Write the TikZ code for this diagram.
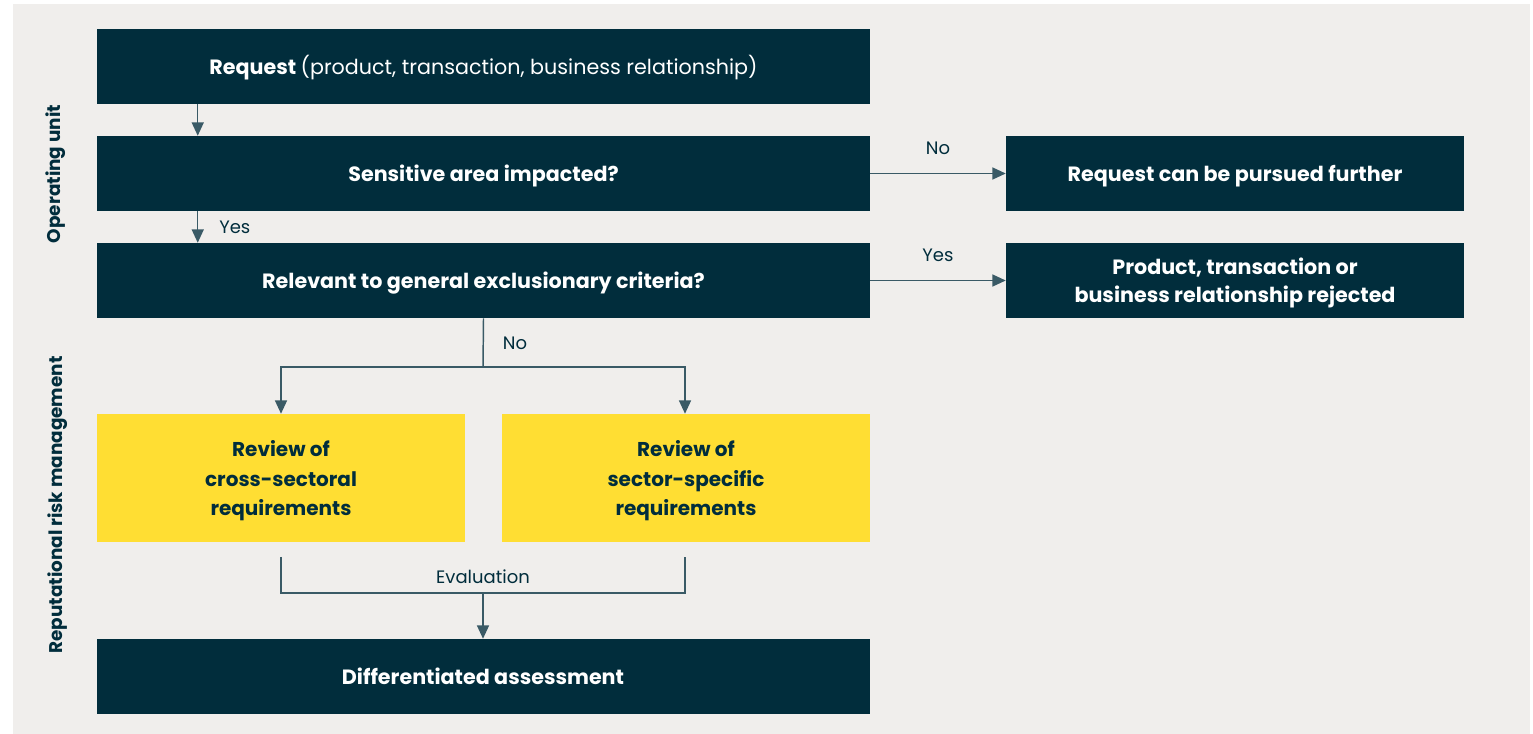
\documentclass[tikz,border=0pt]{standalone}
\usepackage{fontspec}
\setmainfont{Poppins}
\usetikzlibrary{arrows.meta}
\definecolor{navy}{HTML}{012D3C}
\definecolor{slate}{HTML}{3A5A66}
\definecolor{ylw}{HTML}{FFDE33}
\definecolor{bg}{HTML}{F0EEEC}
\newcommand{\topstrut}{\rule{0pt}{16pt}}
\tikzset{
  darkbox/.style={fill=navy, text=white, font=\fontsize{15.5}{21}\selectfont\bfseries, align=center, inner sep=0pt, minimum height=56.25pt},
  oneline/.style={text height=14.5pt, text depth=2.5pt},
  ybox/.style={fill=ylw, text=navy, font=\fontsize{15}{22}\selectfont\bfseries, align=center, inner sep=0pt, minimum width=276pt, minimum height=96pt},
  conn/.style={draw=slate, line width=1.1pt},
  arr/.style={conn, -{Triangle[length=10pt,width=9pt]}},
  lbl/.style={text=navy, font=\fontsize{13.5}{16}\selectfont, inner sep=0pt},
  side/.style={text=navy, font=\fontsize{13.8}{16}\selectfont\bfseries, rotate=90, inner sep=0pt}
}
\begin{document}
\begin{tikzpicture}[x=0.75pt, y=-0.75pt]
\useasboundingbox (0,0) rectangle (1533,734);
\fill[bg] (13,4) rectangle (1530,734);
\node[darkbox, oneline, minimum width=579.75pt] (req) at (483.5,66.5) {Request {\mdseries (product, transaction, business relationship)}};
\node[darkbox, oneline, minimum width=579.75pt] (sens) at (483.5,173.5) {Sensitive area impacted?};
\node[darkbox, oneline, minimum width=579.75pt] (rel) at (483.5,280.5) {Relevant to general exclusionary criteria?};
\node[darkbox, oneline, minimum width=343.5pt] (pursue) at (1235,173.5) {Request can be pursued further};
\node[darkbox, minimum width=343.5pt] (reject) at (1235,280.5) {\topstrut Product, transaction or\\business relationship rejected};
\node[ybox] (cross) at (281,478) {\topstrut Review of\\cross-sectoral\\requirements};
\node[ybox] (spec) at (686,478) {\topstrut Review of\\sector-specific\\requirements};
\node[darkbox, oneline, minimum width=579.75pt] (diff) at (483,676.5) {Differentiated assessment};
\node[side] (op) at (56,174) {Operating unit};
\node[side] (rrm) at (58,505) {Reputational risk management};
\coordinate (bno) at (483,367);
\coordinate (ev) at (483,593);
\draw[arr] ([xshift=75.75pt]req.south west) -- ([xshift=75.75pt]sens.north west);
\draw[arr] ([xshift=75.75pt]sens.south west) -- ([xshift=75.75pt]rel.north west);
\node[lbl, anchor=west] (yes1) at (219,227) {Yes};
\draw[arr] (sens.east) -- (pursue.west);
\node[lbl] (no1) at (938,148) {No};
\draw[arr] (rel.east) -- (reject.west);
\node[lbl] (yes2) at (938,255) {Yes};
\draw[conn] (rel.south) -- (bno);
\node[lbl] (no2) at (515,343) {No};
\draw[arr] (bno) -| (cross.north);
\draw[arr] (bno) -| ([xshift=-0.75pt]spec.north);
\draw[conn] ([yshift=-11pt]cross.south) |- (ev) -| ([yshift=-11pt,xshift=-0.75pt]spec.south);
\node[lbl] (evl) at (483,577) {Evaluation};
\draw[arr] (ev) -- (diff.north);
\end{tikzpicture}
\end{document}
